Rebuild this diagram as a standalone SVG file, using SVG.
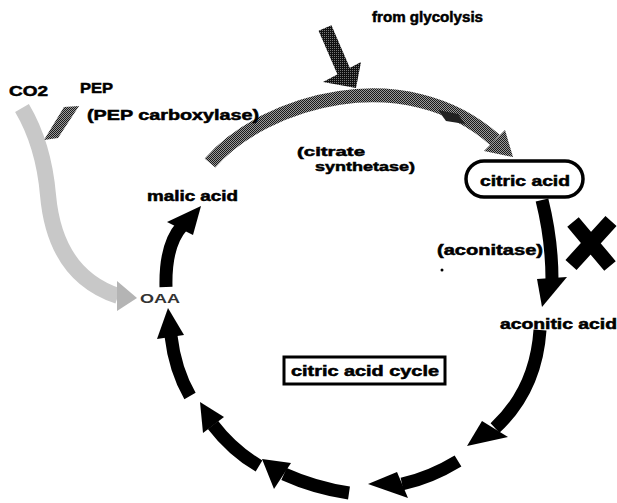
<svg xmlns="http://www.w3.org/2000/svg" width="617" height="503" viewBox="0 0 617 503">
<defs>
<pattern id="st" width="2" height="2" patternUnits="userSpaceOnUse"><rect width="2" height="2" fill="#9a9a9a"/><rect width="1" height="1" fill="#1a1a1a"/><rect x="1" y="1" width="1" height="1" fill="#1a1a1a"/></pattern>
<pattern id="st2" width="2" height="2" patternUnits="userSpaceOnUse"><rect width="2" height="2" fill="#111"/><rect width="1" height="1" fill="#777"/></pattern>
<style>
.t{font-family:"Liberation Sans",Arial,sans-serif;font-weight:bold;font-size:14px;fill:#000;stroke:#000;stroke-width:0.5}
.blk{fill:none;stroke:#000;stroke-width:13}
.hd{fill:#000}
</style>
</defs>
<rect width="617" height="503" fill="#fff"/>
<g id="connectors">
  <!-- CO2 light gray band to OAA -->
  <path d="M22 108 C35 130 45 160 48 195 C52 240 70 280 118 296" fill="none" stroke="#c8c8c8" stroke-width="16"/>
  <polygon points="137,298 117,281 117,311" fill="#b4b4b4"/>
  <!-- PEP band -->
  <polygon points="64,107 79,106 58,138 44,140" fill="url(#st)"/>
  <!-- upper gray arc to citric acid -->
  <path d="M210 163 C265 100 405 60 495 140" fill="none" stroke="url(#st)" stroke-width="14"/>
  <polygon points="513,157 505,130 484,151" fill="url(#st)"/>
  <polygon points="438,110 458,114 465,124 446,121" fill="#222"/>
  <!-- from glycolysis -->
  <path d="M325 28 L344 72" fill="none" stroke="url(#st2)" stroke-width="14"/>
  <polygon points="356,88 323,82 361,62" fill="url(#st2)"/>
  <!-- citric -> aconitic -->
  <path class="blk" d="M542 200 Q552 240 552 280"/>
  <polygon class="hd" points="537,279 567,277 542,307"/>
  <!-- cycle arrows -->
  <path class="blk" d="M540 330 Q536 390 495 428"/>
  <polygon class="hd" points="482,421 508,437 467,446"/>
  <path class="blk" d="M458 461 Q430 478 402 484"/>
  <polygon class="hd" points="397,472 408,498 368,484"/>
  <path class="blk" d="M349 493 Q315 488 284 474"/>
  <polygon class="hd" points="262,459 291,463 274,489"/>
  <path class="blk" d="M259 466 Q232 450 213 425"/>
  <polygon class="hd" points="200,402 224,417 203,433"/>
  <path class="blk" d="M190 396 Q175 370 171 336"/>
  <polygon class="hd" points="168,308 184,335 157,339"/>
  <path class="blk" d="M166 287 Q165 245 182 226"/>
  <polygon class="hd" points="201,206 167,222 193,235"/>
</g>
<g id="n-glycolysis"><text class="t" x="372" y="22" textLength="111" lengthAdjust="spacingAndGlyphs">from glycolysis</text></g>
<g id="n-co2"><text class="t" x="9" y="96" textLength="39" lengthAdjust="spacingAndGlyphs" style="font-size:15px">CO2</text></g>
<g id="n-pep"><text class="t" x="80" y="93" textLength="33" lengthAdjust="spacingAndGlyphs" style="font-size:15px">PEP</text></g>
<g id="n-pepcarb"><text class="t" x="87" y="120" textLength="172" lengthAdjust="spacingAndGlyphs">(PEP carboxylase)</text></g>
<g id="n-citsyn"><text class="t" x="297" y="156" textLength="68" lengthAdjust="spacingAndGlyphs" style="font-size:13px">(citrate</text><text class="t" x="315" y="171" textLength="100" lengthAdjust="spacingAndGlyphs" style="font-size:13px">synthetase)</text></g>
<g id="n-citric"><rect x="466" y="161" width="117" height="36" rx="18" fill="#fff" stroke="#000" stroke-width="3.5"/><text class="t" x="480" y="186" textLength="90" lengthAdjust="spacingAndGlyphs">citric acid</text></g>
<g id="n-aconitase"><text class="t" x="437" y="255" textLength="106" lengthAdjust="spacingAndGlyphs">(aconitase)</text><circle cx="442" cy="270" r="1.5" fill="#000"/></g>
<g id="n-block"><path d="M573 222 L610 266 M611 221 L571 265" stroke="#000" stroke-width="15" fill="none"/></g>
<g id="n-aconitic"><text class="t" x="500" y="329" textLength="117" lengthAdjust="spacingAndGlyphs">aconitic acid</text></g>
<g id="n-malic"><text class="t" x="147" y="201" textLength="91" lengthAdjust="spacingAndGlyphs">malic acid</text></g>
<g id="n-oaa"><text x="140" y="303" textLength="40" lengthAdjust="spacingAndGlyphs" style="font-family:'Liberation Sans',Arial,sans-serif;font-weight:bold;font-size:12px;fill:#333">OAA</text></g>
<g id="n-cycle"><rect x="284" y="357" width="161" height="27" fill="#fff" stroke="#000" stroke-width="3"/><text class="t" x="291" y="376" textLength="148" lengthAdjust="spacingAndGlyphs">citric acid cycle</text></g>
</svg>
